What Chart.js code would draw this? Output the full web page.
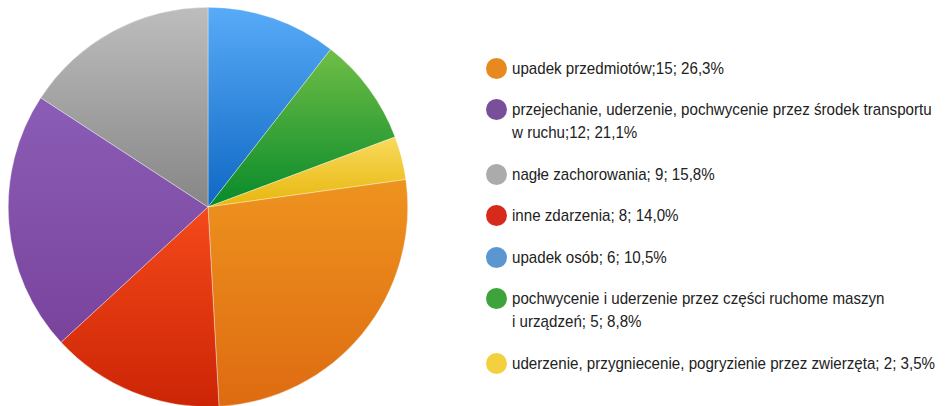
<!DOCTYPE html>
<html>
<head>
<meta charset="utf-8">
<script src="https://cdn.jsdelivr.net/npm/chart.js@4"></script>
<style>
  body { margin: 0; width: 946px; height: 406px; overflow: hidden; background: #fff; position: relative; }
  #pie { position: absolute; left: 8px; top: 7px; width: 400px; height: 400px; }
  #legend { position: absolute; left: 486px; top: 56.5px; font-family: "Liberation Sans", Arial, sans-serif; font-size: 17px; color: #222; }
  .item { display: flex; align-items: flex-start; margin-bottom: 18.5px; line-height: 23px; }
  .dot { width: 21px; height: 21px; margin-top: 1px; border-radius: 50%; margin-right: 5px; flex: none; }
  .txt { display: inline-block; white-space: pre; transform: scaleX(0.89); transform-origin: 0 0; }
</style>
</head>
<body>
<div id="pie"><canvas id="chart"></canvas></div>
<div id="legend"></div>
<script>
// slices, clockwise from 12 o'clock
const categories = [
  "upadek osób",
  "pochwycenie i uderzenie przez części ruchome maszyn i urządzeń",
  "uderzenie, przygniecenie, pogryzienie przez zwierzęta",
  "upadek przedmiotów",
  "inne zdarzenia",
  "przejechanie, uderzenie, pochwycenie przez środek transportu w ruchu",
  "nagłe zachorowania",
];
const values = [6, 5, 2, 15, 8, 12, 9];
const topColors = ["#58abf7", "#70be46", "#f9da5c", "#ee931f", "#f4491a", "#8b5db6", "#bdbdbd"];
const bottomColors = ["#0e67c3", "#078a2a", "#e7b70d", "#de6b11", "#cc2506", "#79439c", "#868686"];
const dotColors = ["#5c96d0", "#3ea33a", "#f4d03f", "#e8891f", "#d52a1c", "#7a4f9a", "#ababab"];

// legend order and texts as in the picture
const legendOrder = [3, 5, 6, 4, 0, 1, 2];
const legendLabels = [
  "upadek przedmiotów;15; 26,3%",
  "przejechanie, uderzenie, pochwycenie przez środek transportu\nw ruchu;12; 21,1%",
  "nagłe zachorowania; 9; 15,8%",
  "inne zdarzenia; 8; 14,0%",
  "upadek osób; 6; 10,5%",
  "pochwycenie i uderzenie przez części ruchome maszyn\ni urządzeń; 5; 8,8%",
  "uderzenie, przygniecenie, pogryzienie przez zwierzęta; 2; 3,5%",
];

const sliceGradient = {
  id: "sliceGradient",
  beforeDatasetsDraw(chart) {
    const ctx = chart.ctx;
    chart.getDatasetMeta(0).data.forEach((arc, i) => {
      const { x, y, startAngle, endAngle, outerRadius } = arc;
      let top = y, bottom = y;
      const angles = [startAngle, endAngle];
      for (let a = -Math.PI / 2; a <= Math.PI * 1.5; a += Math.PI / 2) {
        if (a > startAngle && a < endAngle) angles.push(a);
      }
      angles.forEach((a) => {
        const py = y + Math.sin(a) * outerRadius;
        top = Math.min(top, py);
        bottom = Math.max(bottom, py);
      });
      const g = ctx.createLinearGradient(0, top, 0, bottom);
      g.addColorStop(0, topColors[i]);
      g.addColorStop(1, bottomColors[i]);
      arc.options.backgroundColor = g;
    });
  },
};

new Chart(document.getElementById("chart"), {
  type: "pie",
  data: {
    labels: categories,
    datasets: [{
      data: values,
      backgroundColor: bottomColors,
      borderColor: "rgba(255,255,255,0.7)",
      borderWidth: 0.5,
    }],
  },
  options: {
    responsive: true,
    maintainAspectRatio: false,
    animation: false,
    layout: { padding: 0 },
    plugins: { legend: { display: false }, tooltip: { enabled: true } },
  },
  plugins: [sliceGradient],
});

const legend = document.getElementById("legend");
legendOrder.forEach((idx, k) => {
  const item = document.createElement("div");
  item.className = "item";
  const dot = document.createElement("span");
  dot.className = "dot";
  dot.style.background = dotColors[idx];
  const txt = document.createElement("span");
  txt.className = "txt";
  txt.textContent = legendLabels[k];
  item.appendChild(dot);
  item.appendChild(txt);
  legend.appendChild(item);
});
</script>
</body>
</html>
